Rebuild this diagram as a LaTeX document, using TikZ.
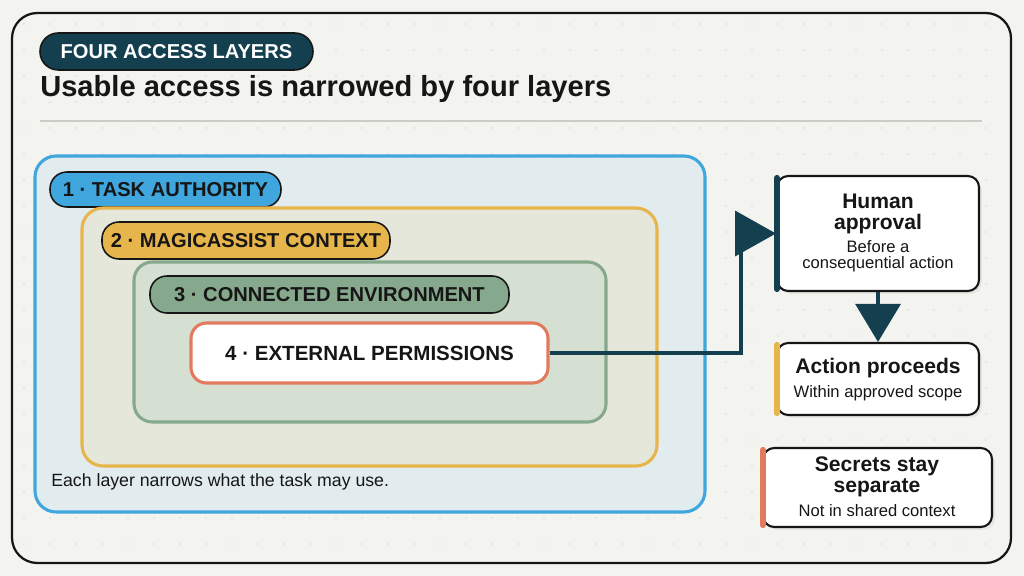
\documentclass[tikz,border=0pt]{standalone}
\usepackage{fontspec}
\setmainfont{Liberation Sans}
\usetikzlibrary{arrows.meta,calc,positioning,fit,shadows}
\definecolor{paper}{HTML}{F3F3EF}
\definecolor{ink}{HTML}{161616}
\definecolor{dotcolor}{HTML}{D9D9D3}
\definecolor{rulecolor}{HTML}{CDCDC6}
\definecolor{deepteal}{HTML}{143F4F}
\definecolor{taskcolor}{HTML}{3FA6DE}
\definecolor{taskfill}{HTML}{E2ECEE}
\definecolor{contextcolor}{HTML}{E6B54C}
\definecolor{contextfill}{HTML}{E5E7DA}
\definecolor{envcolor}{HTML}{86A98D}
\definecolor{envfill}{HTML}{D5E0D3}
\definecolor{permcolor}{HTML}{E27A5E}
\newcommand\fsz[1]{\fontsize{#1}{1.18\dimexpr#1pt\relax}\selectfont}
\tikzset{
  layer/.style={
    draw=#1,
    line width=2.2pt,
    rounded corners=15pt,
    inner sep=0pt
  },
  tag/.style={
    draw=ink,
    fill=#1,
    line width=1.1pt,
    rounded corners=12pt,
    inner sep=0pt
  },
  tagtext/.style={
    inner sep=0pt,
    text=#1,
    font=\bfseries\fsz{14.3}
  },
  card/.style={
    draw=ink,
    fill=white,
    line width=1.5pt,
    rounded corners=8pt,
    inner sep=0pt,
    drop shadow={shadow xshift=2pt, shadow yshift=-2pt, opacity=0.12}
  },
  accent/.style={
    draw=#1,
    line width=4.3pt,
    line cap=round
  },
  flow/.style={
    draw=deepteal,
    line width=2.2pt,
    line join=miter,
    -{Triangle[length=29pt,width=32pt]}
  },
  headline/.style={font=\bfseries\fontsize{15}{15.3}\selectfont, text=ink, inner sep=0pt, align=center},
  subline/.style={font=\fontsize{11.8}{11.8}\selectfont, text=ink, inner sep=0pt, align=center}
}

\begin{document}
\begin{tikzpicture}[x=0.025cm, y=-0.025cm]
  \path[use as bounding box, fill=paper] (0,0) rectangle (1024,576);

  % frame and dot grid
  \node[draw=ink, fill=paper, line width=1.6pt, rounded corners=18pt, inner sep=0pt,
    fit={(12,13) (1011,563)}] (frame) {};
  \foreach \gx in {24,50,...,1000}
    \foreach \gy in {24,50,...,560}
      \fill[dotcolor] (\gx,\gy) circle (0.9);

  % heading
  \node[tag=deepteal, rounded corners=13pt, fit={(40,33) (313,70)}] (kicker) {};
  \node[tagtext=white] at (kicker.center) {FOUR ACCESS LAYERS};
  \node[font=\bfseries\fsz{20.7}, text=ink, anchor=base west, inner sep=0pt]
    (title) at (40,97) {Usable access is narrowed by four layers};
  \node[inner sep=0pt, fit={(40,120) (982,122)}] (rule) {};
  \draw[rulecolor, line width=1.3pt] (rule.west) -- (rule.east);

  % nested layers
  \node[layer=taskcolor, fill=taskfill, fit={(35,156) (705,512)}] (task) {};
  \node[tag=taskcolor, fit={(50,172) (281,207)}] (tasktag) {};
  \node[tagtext=ink] at (tasktag.center) {1 · TASK AUTHORITY};

  \node[layer=contextcolor, fill=contextfill, fit={(82,208) (657,466)}] (context) {};
  \node[tag=contextcolor, fit={(102,222) (390,259)}] (contexttag) {};
  \node[tagtext=ink] at (contexttag.center) {2 · MAGICASSIST CONTEXT};

  \node[layer=envcolor, fill=envfill, rounded corners=13pt, fit={(134,262) (606,422)}] (env) {};
  \node[tag=envcolor, fit={(150,276) (509,313)}] (envtag) {};
  \node[tagtext=ink] at (envtag.center) {3 · CONNECTED ENVIRONMENT};

  \node[layer=permcolor, fill=white, rounded corners=11pt, fit={(191,323) (548,383)}] (perm) {};
  \node[tagtext=ink, font=\bfseries\fsz{14.6}] at (perm.center) {4 · EXTERNAL PERMISSIONS};

  \node[font=\fsz{12.6}, text=ink, anchor=base west, inner sep=0pt]
    (note) at (51,486) {Each layer narrows what the task may use.};

  % gate cards
  \node[card, fit={(777,176) (979,291)}] (approve) {};
  \node[headline] (approvehead) at (878,214) {Human\\approval};
  \node[subline, below=4pt of approvehead] (approvesub) {Before a\\consequential action};
  \draw[accent=deepteal] ($(approve.north west)+(1,3)$) -- ($(approve.south west)+(1,-3)$);

  \node[card, fit={(777,343) (979,415)}] (proceed) {};
  \node[headline] (proceedhead) at (878,368) {Action proceeds};
  \node[subline, below=5pt of proceedhead] (proceedsub) {Within approved scope};
  \draw[accent=contextcolor] ($(proceed.north west)+(1,3)$) -- ($(proceed.south west)+(1,-3)$);

  \node[card, fit={(763,448) (992,527)}] (secret) {};
  \node[headline] (secrethead) at (877,477) {Secrets stay\\separate};
  \node[subline, below=5pt of secrethead] (secretsub) {Not in shared context};
  \draw[accent=permcolor] ($(secret.north west)+(1,3)$) -- ($(secret.south west)+(1,-3)$);

  % connectors
  \draw[flow] (perm.east) -| ($(approve.west)+(-35,0)$) -- (approve.west);
  \draw[flow, -{Triangle[length=27pt,width=32pt]}] (approve.south) -- (proceed.north);
\end{tikzpicture}
\end{document}
